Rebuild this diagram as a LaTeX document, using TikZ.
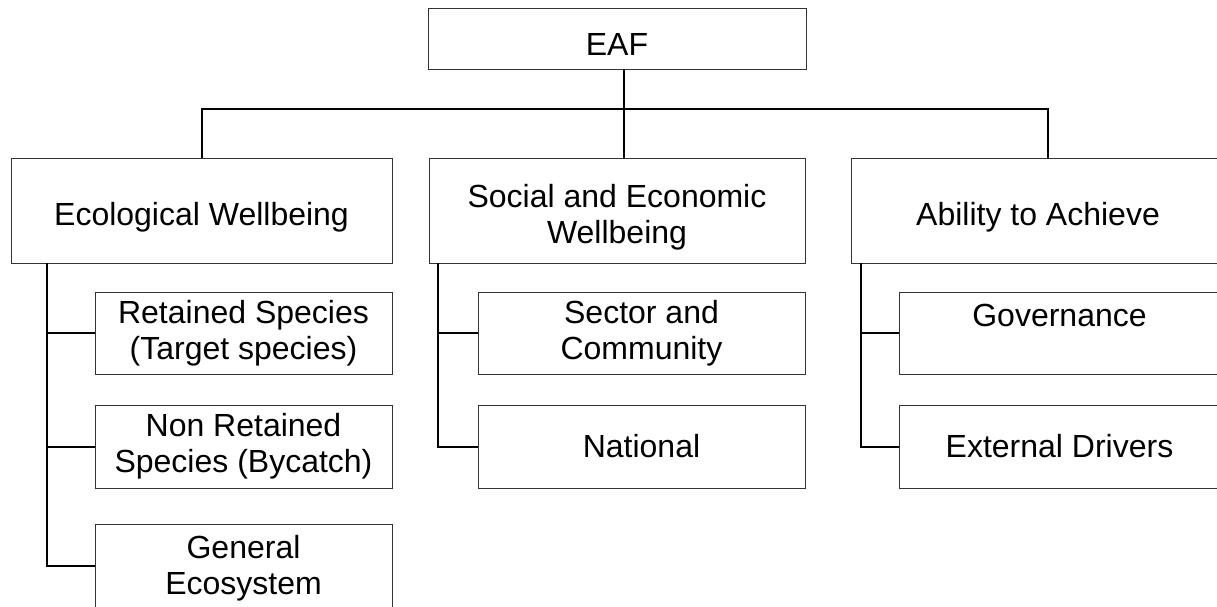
\documentclass[tikz,border=0pt]{standalone}
\usepackage{fontspec}
\setmainfont{Liberation Sans}
% invisible strut that lowers the text block inside its box
\newcommand\lowerby[1]{\rule{0pt}{#1}}
\begin{document}
\begin{tikzpicture}[x=1pt,y=-1pt,
  box/.style={draw=black!80, line width=1pt, fill=white, inner sep=0pt,
    align=center, font=\fontsize{32}{36}\selectfont},
  conn/.style={line width=2pt, black}]
\clip (0,0) rectangle (1217,606);

% root
\node[box, minimum width=378, minimum height=61] (eaf) at (617,38.5) {\lowerby{33pt}EAF};

% first level
\node[box, minimum width=381, minimum height=105] (eco) at (201.5,210.5) {\lowerby{37pt}Ecological Wellbeing};
\node[box, minimum width=376, minimum height=105] (soc) at (617,210.5) {\lowerby{37pt}Social and Economic\\Wellbeing};
\node[box, minimum width=374, minimum height=105] (abl) at (1038,210.5) {\lowerby{37pt}Ability to Achieve};

% ecological wellbeing components
\node[box, minimum width=297, minimum height=82] (ret) at (243.5,333) {Retained Species\\(Target species)};
\node[box, minimum width=297, minimum height=83] (non) at (243.5,446.5) {Non Retained\\Species (Bycatch)};
\node[box, minimum width=297, minimum height=84] (gen) at (243.5,566) {\lowerby{27pt}General\\Ecosystem};

% social and economic components
\node[box, minimum width=327, minimum height=82] (sec) at (641.5,333) {Sector and\\Community};
\node[box, minimum width=327, minimum height=83] (nat) at (641.5,446.5) {National};

% ability to achieve components
\node[box, minimum width=321, minimum height=82] (gov) at (1059.5,333) {Governance\\\mbox{}};
\node[box, minimum width=321, minimum height=83] (ext) at (1059.5,446.5) {External Drivers};

% root to first level
\coordinate (hub) at (624,109);
\draw[conn] (hub |- eaf.south) -- (hub);
\draw[conn] (eco.north) |- (hub) -| ([xshift=10]abl.north);
\draw[conn] (hub) -- (hub |- soc.north);

% first level to components
\coordinate (ecoS) at (47,263);
\draw[conn] (ecoS) |- (gen.west);
\draw[conn] (ecoS |- ret.west) -- (ret.west);
\draw[conn] (ecoS |- non.west) -- (non.west);

\coordinate (socS) at (438,263);
\draw[conn] (socS) |- (nat.west);
\draw[conn] (socS |- sec.west) -- (sec.west);

\coordinate (ablS) at (861,263);
\draw[conn] (ablS) |- (ext.west);
\draw[conn] (ablS |- gov.west) -- (gov.west);
\end{tikzpicture}
\end{document}
